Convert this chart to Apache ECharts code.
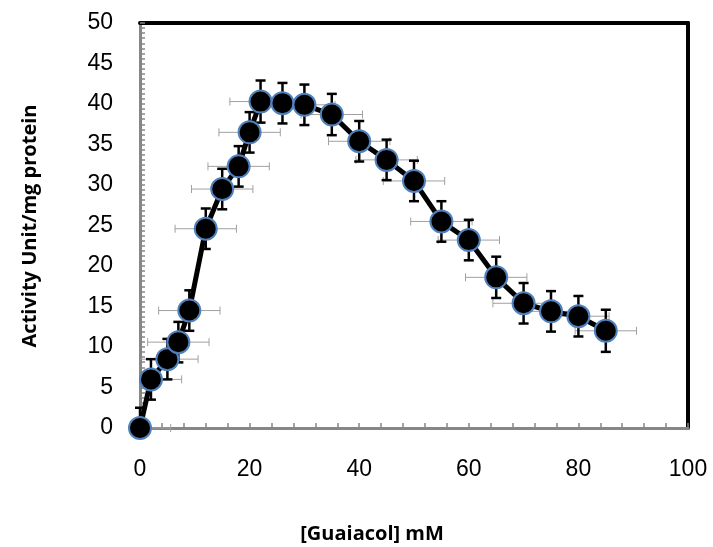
<!DOCTYPE html>
<html>
<head>
<meta charset="utf-8">
<script src="https://cdn.jsdelivr.net/npm/echarts@6/dist/echarts.min.js"></script>
<style>html,body{margin:0;padding:0;background:#fff}#c{width:713px;height:547px}</style>
</head>
<body>
<div id="c"></div>
<script>
// Data
var guaiacol = [0, 2, 5, 7, 9, 12, 15, 18, 20, 22, 26, 30, 35, 40, 45, 50, 55, 60, 65, 70, 75, 80, 85];
var activity = [0, 6.0, 8.5, 10.6, 14.5, 24.6, 29.5, 32.3, 36.5, 40.3, 40.1, 39.9, 38.7, 35.4, 33.1, 30.5, 25.5, 23.2, 18.6, 15.4, 14.4, 13.8, 12.0];
var yError = [2.5, 2.5, 2.5, 2.5, 2.5, 2.5, 2.5, 2.5, 2.5, 2.6, 2.5, 2.5, 2.55, 2.5, 2.5, 2.5, 2.5, 2.5, 2.55, 2.5, 2.5, 2.5, 2.6];
var xError = [5.6, 5.6, 5.6, 5.6, 5.6, 5.6, 5.6, 5.6, 5.6, 5.6, 5.6, 5.6, 5.6, 5.6, 5.6, 5.6, 5.6, 5.6, 5.6, 5.6, 5.6, 5.6, 5.6];
var xTicks = {min: 0, max: 100, interval: 20};
var yTicks = {min: 0, max: 50, interval: 5};
var xTitle = '[Guaiacol] mM';
var yTitle = 'Activity Unit/mg protein';

var pts = guaiacol.map(function (x, i) { return [x, activity[i], xError[i], yError[i]]; });
var lineData = guaiacol.map(function (x, i) { return [x, activity[i]]; });

function inX(v) { return v >= xTicks.min && v <= xTicks.max; }
function inY(v) { return v >= yTicks.min && v <= yTicks.max; }
function clX(v) { return Math.max(xTicks.min, Math.min(xTicks.max, v)); }
function clY(v) { return Math.max(yTicks.min, Math.min(yTicks.max, v)); }

function hErr(params, api) {
  var x = api.value(0), y = api.value(1), e = api.value(2);
  var a = api.coord([clX(x - e), y]), b = api.coord([clX(x + e), y]);
  var st = {stroke: '#a0a0a0', lineWidth: 1};
  var ch = [{type: 'line', shape: {x1: a[0], y1: a[1], x2: b[0], y2: b[1]}, style: st}];
  if (inX(x - e)) ch.push({type: 'line', shape: {x1: a[0], y1: a[1] - 4, x2: a[0], y2: a[1] + 4}, style: st});
  if (inX(x + e)) ch.push({type: 'line', shape: {x1: b[0], y1: b[1] - 4, x2: b[0], y2: b[1] + 4}, style: st});
  return {type: 'group', children: ch};
}
function vErr(params, api) {
  var x = api.value(0), y = api.value(1), e = api.value(3);
  var a = api.coord([x, clY(y - e)]), b = api.coord([x, clY(y + e)]);
  var st = {stroke: '#000', lineWidth: 2.5};
  var ch = [{type: 'line', shape: {x1: a[0], y1: a[1], x2: b[0], y2: b[1]}, style: st}];
  if (inY(y - e)) ch.push({type: 'line', shape: {x1: a[0] - 5, y1: a[1], x2: a[0] + 5, y2: a[1]}, style: st});
  if (inY(y + e)) ch.push({type: 'line', shape: {x1: b[0] - 5, y1: b[1], x2: b[0] + 5, y2: b[1]}, style: st});
  return {type: 'group', children: ch};
}

var chart = echarts.init(document.getElementById('c'), null, {renderer: 'canvas'});
var grayAxis = '#868686';
chart.setOption({
  animation: false,
  backgroundColor: '#fff',
  grid: {left: 140, right: 25, top: 23, bottom: 119, containLabel: false},
  xAxis: [{
    type: 'value', min: xTicks.min, max: xTicks.max, interval: xTicks.interval,
    axisLine: {lineStyle: {color: grayAxis, width: 3}},
    axisTick: {inside: true, length: 5, lineStyle: {color: grayAxis, width: 1.5}},
    minorTick: {show: true, splitNumber: 5, length: 5, lineStyle: {color: grayAxis, width: 1.5}},
    splitLine: {show: false},
    axisLabel: {margin: 30, color: '#000', fontFamily: 'Liberation Sans', fontSize: 23}
  }, {
    type: 'value', position: 'top', min: xTicks.min, max: xTicks.max,
    axisLine: {show: true, onZero: false, lineStyle: {color: '#000', width: 4}},
    axisTick: {show: false}, axisLabel: {show: false}, splitLine: {show: false}
  }],
  yAxis: [{
    type: 'value', min: yTicks.min, max: yTicks.max, interval: yTicks.interval,
    axisLine: {lineStyle: {color: grayAxis, width: 3}},
    axisTick: {inside: true, length: 5, lineStyle: {color: grayAxis, width: 1.5}},
    minorTick: {show: true, splitNumber: 8, length: 5, lineStyle: {color: grayAxis, width: 1.5}},
    splitLine: {show: false},
    axisLabel: {margin: 27, color: '#000', fontFamily: 'Liberation Sans', fontSize: 23}
  }, {
    type: 'value', position: 'right', min: yTicks.min, max: yTicks.max,
    axisLine: {show: true, onZero: false, lineStyle: {color: '#000', width: 4}},
    axisTick: {show: false}, axisLabel: {show: false}, splitLine: {show: false}
  }],
  graphic: [
    {type: 'text', x: 372, y: 534, style: {text: xTitle, textAlign: 'center', textVerticalAlign: 'middle', fill: '#000', font: 'bold 20px "Open Sans"'}},
    {type: 'text', x: 30, y: 226, rotation: Math.PI / 2, style: {text: yTitle, textAlign: 'center', textVerticalAlign: 'middle', fill: '#000', font: 'bold 20px "Open Sans"'}}
  ],
  series: [
    {type: 'custom', renderItem: hErr, data: pts, encode: {x: 0, y: 1}, z: 1, silent: true},
    {type: 'custom', renderItem: vErr, data: pts, encode: {x: 0, y: 1}, z: 2, silent: true},
    {type: 'line', data: lineData, z: 3, clip: false,
     lineStyle: {color: '#000', width: 5},
     symbol: 'circle', symbolSize: 22,
     itemStyle: {color: '#000', borderColor: '#4f81bd', borderWidth: 2}}
  ]
});
</script>
</body>
</html>
